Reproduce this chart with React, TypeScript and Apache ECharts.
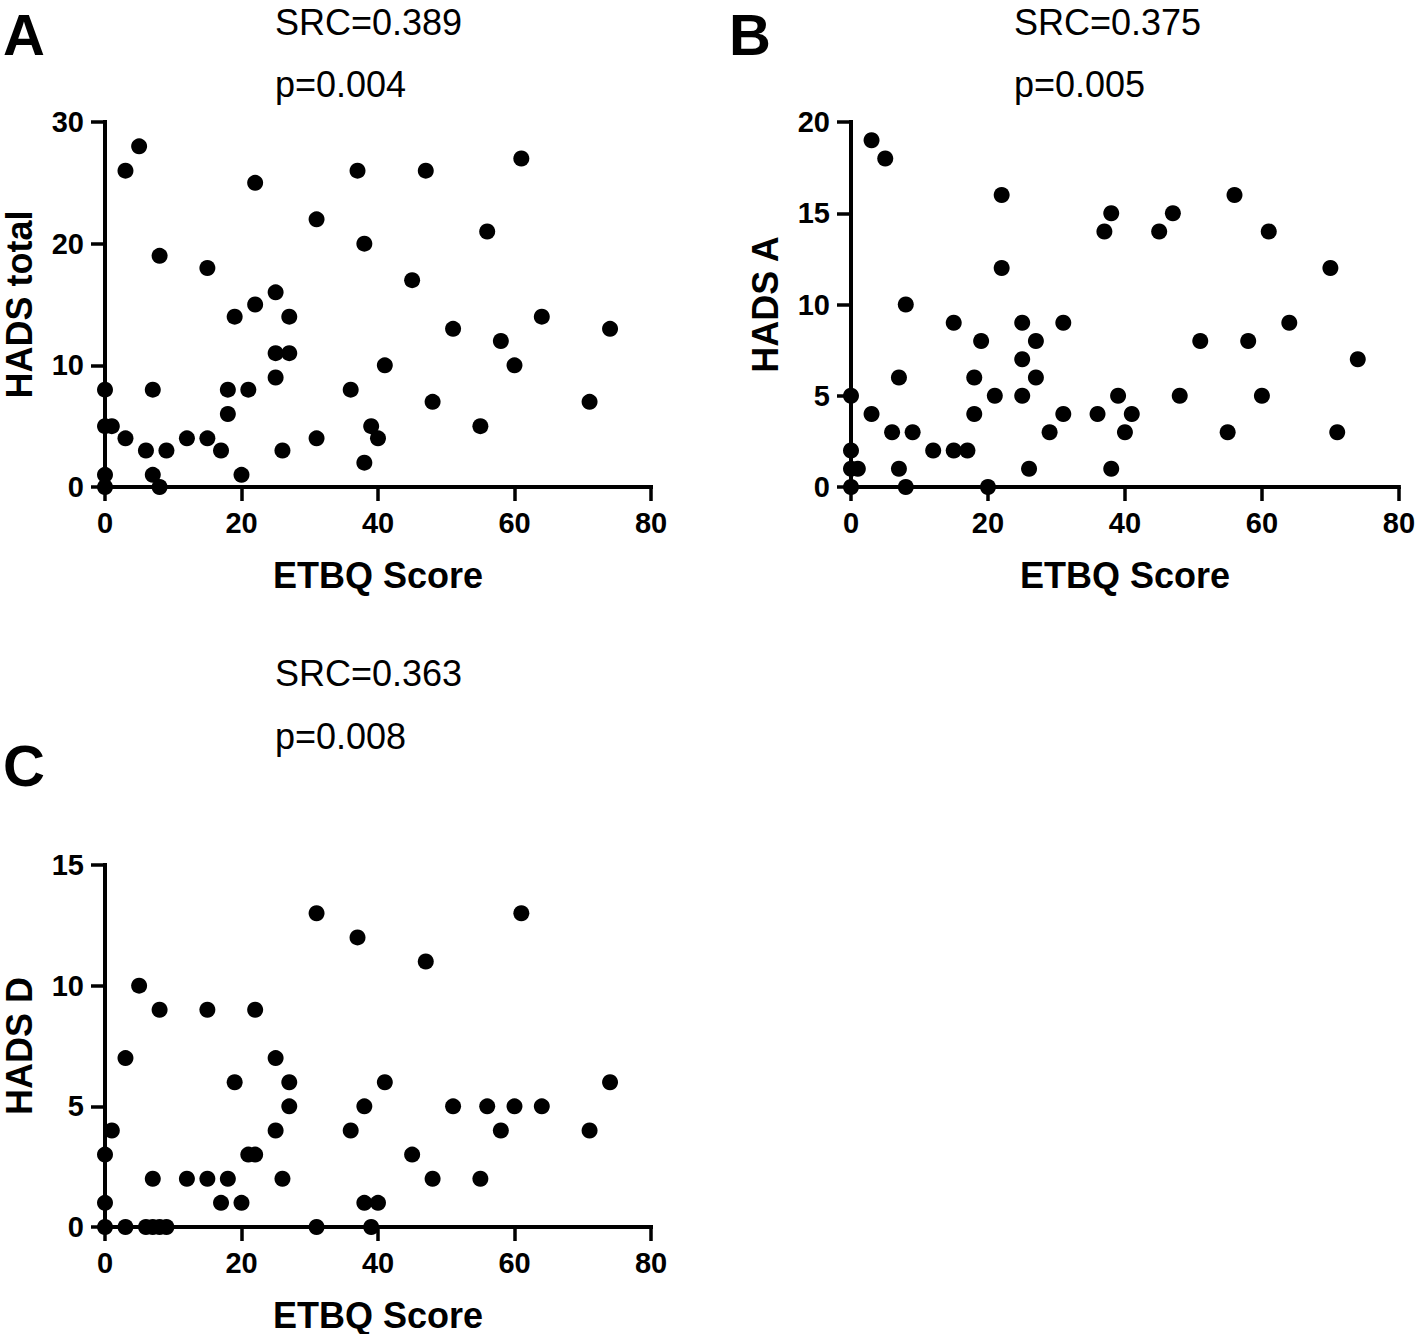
import React, { useEffect, useRef } from "react";
import * as echarts from "echarts";

// ETBQ score (x) vs HADS scores (y)
const totalX = [0,0,1,0,0,3,5,3,6,7,7,8,8,9,12,15,15,17,18,18,19,20,21,22,22,25,25,25,26,27,27,31,31,36,37,38,38,39,40,41,45,47,48,51,55,56,58,60,61,64,71,74];
const totalY = [8,5,5,1,0,26,28,4,3,8,1,0,19,3,4,18,4,3,6,8,14,1,8,25,15,16,11,9,3,14,11,22,4,8,26,20,2,5,4,10,17,26,7,13,5,21,12,10,27,14,7,13];

const anxX = [0,0,0,1,0,3,3,5,6,7,7,8,8,9,12,15,15,17,18,18,19,20,21,22,22,25,25,25,26,27,27,29,31,31,36,37,38,38,39,40,41,45,47,48,51,55,56,58,60,61,64,70,71,74];
const anxY = [5,2,1,1,0,19,4,18,3,6,1,10,0,3,2,9,2,2,6,4,8,0,5,16,12,9,7,5,1,8,6,3,9,4,4,14,15,1,5,3,4,14,15,5,8,3,16,8,5,14,9,12,3,7];

const depX = [0,0,0,1,3,3,5,6,7,7,8,8,9,12,15,15,17,18,19,20,21,22,22,25,25,26,27,27,31,31,36,37,38,38,39,40,41,45,47,48,51,55,56,58,60,61,64,71,74];
const depY = [3,1,0,4,7,0,10,0,2,0,9,0,0,2,9,2,1,2,6,1,3,3,9,7,4,2,6,5,13,0,4,12,5,1,0,1,6,3,11,2,5,2,5,4,5,13,5,4,6];

const panelLetters = ["A", "B", "C"];
const yNames = ["HADS total", "HADS A", "HADS D"];
const xName = "ETBQ Score";
const yMax = [30, 20, 15];
const yInterval = [10, 5, 5];
const srcTexts = ["SRC=0.389", "SRC=0.375", "SRC=0.363"];
const pTexts = ["p=0.004", "p=0.005", "p=0.008"];

const FONT = '"Liberation Sans", Arial, Helvetica, sans-serif';

const zip = (xs: number[], ys: number[]) => xs.map((x, i) => [x, ys[i]]);

export default function App() {
  const ref = useRef<HTMLDivElement>(null);
  useEffect(() => {
    document.body.style.margin = "0";
    const chart = echarts.init(ref.current!, undefined, { renderer: "svg" });
    const grids = [
      { left: 103, top: 122, width: 548, height: 365 },
      { left: 851, top: 122, width: 548, height: 365 },
      { left: 103, top: 865, width: 548, height: 365 },
    ];
    const datasets = [zip(totalX, totalY), zip(anxX, anxY), zip(depX, depY)];
    const axisLine = { show: true, onZero: false, lineStyle: { color: "#000", width: 4, cap: "square" } };
    const axisTick = { show: true, inside: false, length: 14, lineStyle: { color: "#000", width: 3.5 } };
    const labelStyle = { color: "#000", fontFamily: FONT, fontWeight: "bold" as const, fontSize: 29 };
    const nameStyle = { color: "#000", fontFamily: FONT, fontWeight: "bold" as const, fontSize: 36 };

    const xAxis = grids.map((_, i) => ({
      type: "value",
      gridIndex: i,
      min: 0,
      max: 80,
      interval: 20,
      axisLine,
      axisTick,
      splitLine: { show: false },
      axisLabel: { ...labelStyle, margin: 21 },
      name: xName,
      nameLocation: "middle",
      nameGap: 70,
      nameTextStyle: nameStyle,
    }));
    const yAxis = grids.map((_, i) => ({
      type: "value",
      gridIndex: i,
      min: 0,
      max: yMax[i],
      interval: yInterval[i],
      axisLine,
      axisTick,
      splitLine: { show: false },
      axisLabel: { ...labelStyle, margin: 21 },
      name: yNames[i],
      nameLocation: "middle",
      nameGap: 68,
      nameTextStyle: nameStyle,
    }));
    const series = datasets.map((d, i) => ({
      type: "scatter",
      xAxisIndex: i,
      yAxisIndex: i,
      data: d,
      symbol: "circle",
      symbolSize: 16,
      clip: false,
      z: 3,
      itemStyle: { color: "#000", opacity: 1 },
      emphasis: { disabled: true },
    }));

    const textEl = (text: string, x: number, y: number, size: number, weight: string) => ({
      type: "text",
      x,
      y,
      style: {
        text,
        fill: "#000",
        font: `${weight} ${size}px ${FONT}`,
        textAlign: "left",
        textVerticalAlign: "middle",
      },
    });
    const letterPos = [[3, 34], [729, 34], [3, 765]];
    const srcPos = [[275, 22], [1014, 22], [275, 673]];
    const pPos = [[275, 84], [1014, 84], [275, 736]];
    const graphic: any[] = [];
    for (let i = 0; i < 3; i++) {
      graphic.push(textEl(panelLetters[i], letterPos[i][0], letterPos[i][1], 58, "bold"));
      graphic.push(textEl(srcTexts[i], srcPos[i][0], srcPos[i][1], 36, "normal"));
      graphic.push(textEl(pTexts[i], pPos[i][0], pPos[i][1], 36, "normal"));
    }

    chart.setOption({
      animation: false,
      backgroundColor: "#fff",
      grid: grids.map((g) => ({ ...g, containLabel: false })),
      xAxis,
      yAxis,
      series,
      graphic,
    });
    return () => chart.dispose();
  }, []);
  return <div ref={ref} style={{ width: 1418, height: 1334 }} />;
}
